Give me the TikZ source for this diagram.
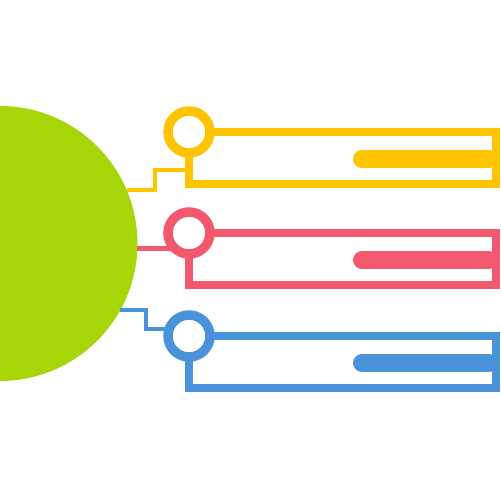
\documentclass[tikz,border=0pt]{standalone}
\definecolor{limeG}{RGB}{166,214,8}
\definecolor{goldY}{RGB}{255,196,0}
\definecolor{roseR}{RGB}{242,88,110}
\definecolor{skyB}{RGB}{74,146,218}
\tikzset{
  ring/.style = {circle, draw, fill=white, line width=5.4pt,
    minimum size=0.84cm, inner sep=0pt, outer sep=0pt},
  frame/.style = {line width=4.6pt, line join=miter},
  wire/.style = {line width=2.6pt, line join=miter},
  bar/.style = {line width=10.2pt, line cap=round}
}

\begin{document}
\begin{tikzpicture}[x=0.02cm,y=-0.02cm]
  \clip (0,0) rectangle (500,500);
  \useasboundingbox (0,0) rectangle (500,500);
  \node[circle, fill=limeG, minimum size=5.5cm, inner sep=0pt, outer sep=0pt]
    (green) at (0,243.5) {};
  \foreach \N/\C/\Y in {Y/goldY/132, R/roseR/233, B/skyB/336} {%
    \draw[\C, frame] (189,\Y) ++(21,0) -- ++(286,0) -- ++(0,52) -- ++(-307,0) -- ++(0,-32);
    \node[ring, draw=\C] (ring\N) at (189,\Y) {};
    \draw[\C, bar] (ring\N.center) ++(173,27) -- ++(127,0);
  }
  \coordinate (stepY) at (155,170);
  \coordinate (stepB) at (146,329);
  \draw[goldY, wire] (green.23.8) -| (stepY) -- (stepY -| ringY.south);
  \draw[roseR, wire] (green.-2.3) -- (green.-2.3 -| ringR.230);
  \draw[skyB, wire] (green.-29.4) -| (stepB) -- (stepB -| ringB.west);
\end{tikzpicture}
\end{document}
